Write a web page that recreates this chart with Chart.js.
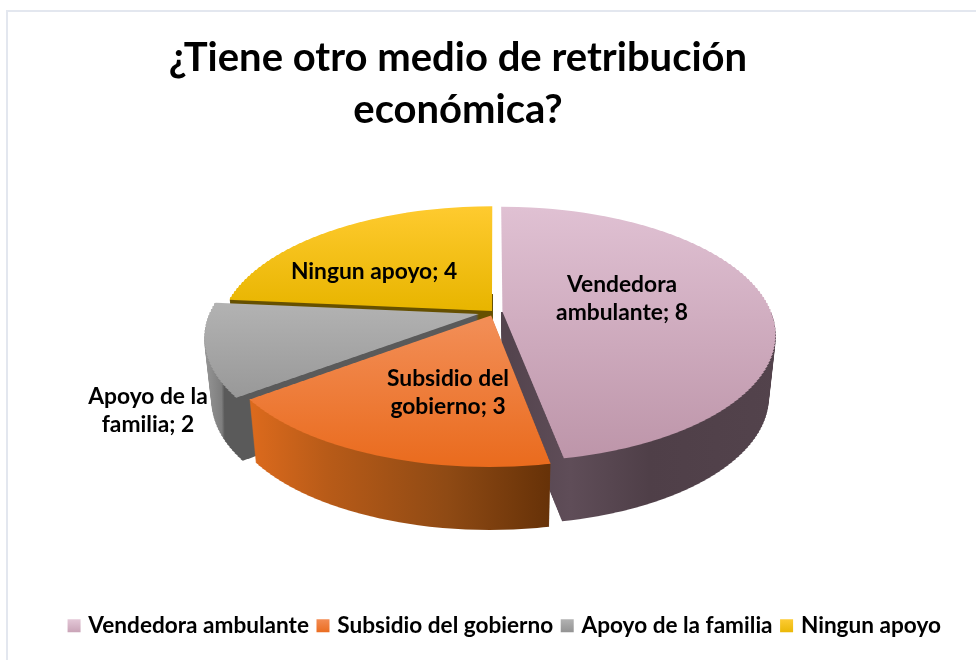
<!DOCTYPE html>
<html lang="es">

<head>
    <meta charset="UTF-8">
    <title>¿Tiene otro medio de retribución económica?</title>
    <script src="https://cdn.jsdelivr.net/npm/chart.js"></script>
    <style>
        body { margin: 0; background: #fff; }
        .marco { position: absolute; left: 6px; top: 10px; right: 0; bottom: 0; border-left: 2px solid #e3e7ef; border-top: 2px solid #e3e7ef; }
        .grafico { position: absolute; left: 0; top: 0; width: 976px; height: 660px; }
    </style>
</head>

<body>
    <div class="marco"></div>
    <div class="grafico"><canvas id="pastel"></canvas></div>

    <script>
        var categorias = ['Vendedora ambulante', 'Subsidio del gobierno', 'Apoyo de la familia', 'Ningun apoyo'];
        var valores = [8, 3, 2, 4];
        var separacion = [7, 6.5, 13, 2.5];

        var lineasEtiqueta = [['Vendedora', 'ambulante; 8'], ['Subsidio del', 'gobierno; 3'], ['Apoyo de la', 'familia; 2'], ['Ningun apoyo; 4']];
        var posEtiqueta = [[622, 299], [448, 393], [148, 411], [374, 272]];

        var fuente = 'Lato';

        // tilted disc: a = half width, b = vertical size, k = perspective, fondo = wall height
        var pie = { x: 494, y: 312, a: 268.7, b: 123.5, k: 0.1765, fondo: 63 };
        var banda = 3;
        // first row (from the centre) where each wall can show
        var filaMuro = [0, 0, 0, -18];

        var caraSuperior = [
            ['#e0c1d3', '#bd95a9', 206, 460],
            ['#f28d55', '#e9691a', 320, 470],
            ['#b2b2b2', '#979797', 303, 400],
            ['#ffcb30', '#e8b500', 205, 310]
        ];
        var caraLateral = [
            [[502, '#54444e'], [560, '#5f4d58'], [640, '#4f3f48'], [775, '#53434c']],
            [[250, '#de6b1d'], [330, '#b85b18'], [450, '#8f4a14'], [552, '#673208']],
            [[205, '#aaaaaa'], [238, '#7e7e7e'], [241, '#5a5a5a'], [480, '#5a5a5a']],
            [[220, '#665000'], [492, '#665000']]
        ];
        var colorLeyenda = [['#e6cbda', '#c69fb3'], ['#f48f58', '#e9691a'], ['#b5b5b5', '#8f8f8f'], ['#ffcd38', '#e8b500']];

        // canvas has no perspective transform, so the arc is painted in thin rows, each with its own scale
        function dibujarArco(chart, arco, color, dy, desde) {
            var ctx = chart.ctx;
            var opciones = arco.options;
            var R = arco.outerRadius;
            var medio = (arco.startAngle + arco.endAngle) / 2;
            var sep = opciones.offset || 0;

            for (var t = -117; t < 168; t += banda) {
                if (dy + t < desde) continue;

                var tm = t + banda / 2;
                var v = tm / (pie.b + pie.k * tm);
                var w = 1 - pie.k * v;
                // the lower plane is further away, so it comes out a little narrower
                var escalaX = pie.a / w / R * (1 - 0.0004 * dy);
                var escalaY = pie.b / (w * w) / R;
                var yBanda = pie.y + dy + tm;

                ctx.save();
                ctx.beginPath();
                ctx.rect(0, pie.y + dy + t, chart.width, banda);
                ctx.clip();
                ctx.translate(pie.x, yBanda);
                ctx.scale(escalaX, escalaY);
                ctx.translate(-arco.x, -(arco.y + v * R));
                ctx.translate(Math.cos(medio) * sep, Math.sin(medio) * sep);

                var relleno = color(
                    function (px) { return (px - pie.x) / escalaX + arco.x; },
                    function (py) { return (py - yBanda) / escalaY + arco.y + v * R; }
                );
                arco.options = Object.create(opciones);
                arco.options.backgroundColor = relleno;
                arco.options.offset = 0;
                arco.draw(ctx);
                arco.options = opciones;
                ctx.restore();
            }
        }

        var pie3d = {
            id: 'pie3d',
            beforeDatasetDraw: function (chart, args) {
                var ctx = chart.ctx;
                var arcos = args.meta.data;

                // walls first, back slices before front ones
                [3, 2, 0, 1].forEach(function (i) {
                    var paradas = caraLateral[i];
                    var ini = paradas[0][0];
                    var fin = paradas[paradas.length - 1][0];
                    var lado = function (fx) {
                        var g = ctx.createLinearGradient(fx(ini), 0, fx(fin), 0);
                        paradas.forEach(function (p) { g.addColorStop((p[0] - ini) / (fin - ini), p[1]); });
                        return g;
                    };
                    for (var dy = pie.fondo; dy > 0; dy--) {
                        dibujarArco(chart, arcos[i], lado, dy, filaMuro[i]);
                    }
                });

                [3, 2, 0, 1].forEach(function (i) {
                    dibujarArco(chart, arcos[i], function (fx, fy) {
                        var g = ctx.createLinearGradient(0, fy(caraSuperior[i][2]), 0, fy(caraSuperior[i][3]));
                        g.addColorStop(0, caraSuperior[i][0]);
                        g.addColorStop(1, caraSuperior[i][1]);
                        return g;
                    }, 0, -200);
                });
                return false;
            },
            afterLayout: function (chart) {
                // the title sits left of the legend centre
                chart.titleBlock.left -= 48;
                chart.titleBlock.right -= 48;
            },
            afterDatasetsDraw: function (chart) {
                var ctx = chart.ctx;
                ctx.save();
                ctx.font = 'bold 22.8px ' + fuente;
                ctx.fillStyle = '#000';
                ctx.textAlign = 'center';
                ctx.textBaseline = 'middle';
                lineasEtiqueta.forEach(function (lineas, i) {
                    lineas.forEach(function (t, n) {
                        ctx.fillText(t, posEtiqueta[i][0], posEtiqueta[i][1] + (n - (lineas.length - 1) / 2) * 28);
                    });
                });
                ctx.restore();
            }
        };

        var ctx = document.getElementById('pastel');

        var grafico = new Chart(ctx, {
            type: 'pie',
            plugins: [pie3d],
            data: {
                labels: categorias,
                datasets: [{
                    data: valores,
                    offset: separacion,
                    borderWidth: 0,
                    backgroundColor: ['#d9b8c9', '#ee7c34', '#a5a5a5', '#f5c211']
                }]
            },
            options: {
                responsive: true,
                maintainAspectRatio: false,
                animation: false,
                layout: { padding: { left: 36, bottom: 13 } },
                plugins: {
                    tooltip: { enabled: false },
                    title: {
                        display: true,
                        text: ['¿Tiene otro medio de retribución', 'económica?'],
                        color: '#000',
                        font: { family: fuente, size: 40, weight: 'bold', lineHeight: 1.3 },
                        padding: { top: 32, bottom: 10 }
                    },
                    legend: {
                        position: 'bottom',
                        labels: {
                            color: '#000',
                            font: { family: fuente, size: 22.6, weight: 'bold' },
                            boxWidth: 6,
                            boxHeight: 6,
                            padding: 11,
                            generateLabels: function (chart) {
                                var c = chart.ctx;
                                return categorias.map(function (nombre, i) {
                                    var g = c.createLinearGradient(0, 618, 0, 634);
                                    g.addColorStop(0, colorLeyenda[i][0]);
                                    g.addColorStop(1, colorLeyenda[i][1]);
                                    return { text: nombre, fillStyle: g, strokeStyle: g, lineWidth: 7, index: i };
                                });
                            }
                        }
                    }
                }
            }
        });
    </script>
</body>

</html>
